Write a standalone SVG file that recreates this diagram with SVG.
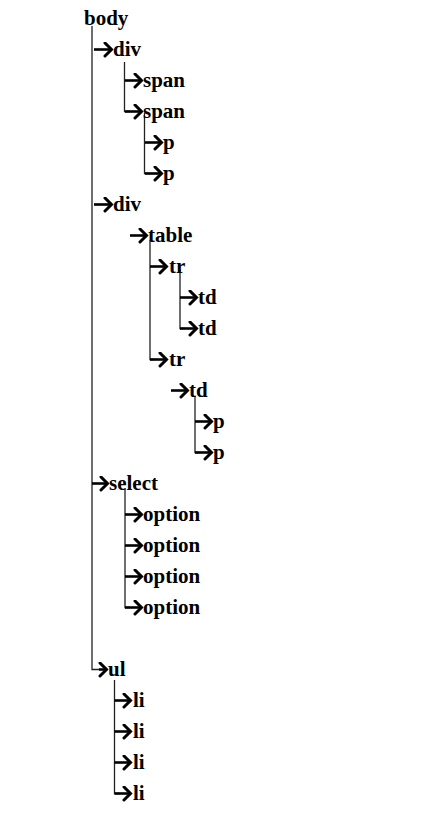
<svg xmlns="http://www.w3.org/2000/svg" width="428" height="815" viewBox="0 0 428 815">
<style>
text{font-family:"Liberation Serif","Times New Roman",serif;font-weight:bold;font-size:21px;fill:#000}
.tree{fill:none;stroke:#222;stroke-width:1.3}
.arr{fill:none;stroke:#000;stroke-width:2.6;marker-end:url(#head)}
</style>
<defs>
<marker id="head" markerUnits="userSpaceOnUse" markerWidth="14" markerHeight="16" refX="9" refY="8" orient="auto">
<path d="M2,1.5 L8.5,8 L2,14.5" fill="none" stroke="#000" stroke-width="3" stroke-linecap="round" stroke-linejoin="miter"/>
</marker>
</defs>
<rect width="428" height="815" fill="#fff"/>
<g id="connectors">
<path class="tree" d="M92,26 V669.5 H100"/>
<path class="arr" d="M99,669.5 H107"/>
<path class="arr" d="M94,49.5 H112"/>
<path class="arr" d="M94,204.5 H112"/>
<path class="arr" d="M92,483.5 H108"/>
<path class="tree" d="M124.5,62 V111.5 H130"/>
<path class="arr" d="M125,80.5 H142"/>
<path class="arr" d="M125,111.5 H142"/>
<path class="tree" d="M144.5,113 V173.5 H150"/>
<path class="arr" d="M145,142.5 H162"/>
<path class="arr" d="M145,173.5 H162"/>
<path class="arr" d="M130,235.5 H147"/>
<path class="tree" d="M150,240 V359.5 H155"/>
<path class="arr" d="M150,266.5 H167"/>
<path class="arr" d="M150,359.5 H167"/>
<path class="tree" d="M180,270 V328.5 H185"/>
<path class="arr" d="M180,297.5 H197"/>
<path class="arr" d="M180,328.5 H197"/>
<path class="arr" d="M171,390.5 H188"/>
<path class="tree" d="M195,396 V452.5 H200"/>
<path class="arr" d="M195,421.5 H212"/>
<path class="arr" d="M195,452.5 H212"/>
<path class="tree" d="M125,488 V607.5 H130"/>
<path class="arr" d="M125,514.5 H142"/>
<path class="arr" d="M125,545.5 H142"/>
<path class="arr" d="M125,576.5 H142"/>
<path class="arr" d="M125,607.5 H142"/>
<path class="tree" d="M114.5,680 V793.5 H120"/>
<path class="arr" d="M114.5,700.5 H131"/>
<path class="arr" d="M114.5,731.5 H131"/>
<path class="arr" d="M114.5,762.5 H131"/>
<path class="arr" d="M114.5,793.5 H131"/>
</g>
<g id="n-body"><text x="84" y="25">body</text></g>
<g id="n-div1"><text x="113" y="55.5">div</text></g>
<g id="n-span1"><text x="143" y="86.5">span</text></g>
<g id="n-span2"><text x="143" y="117.5">span</text></g>
<g id="n-p1"><text x="163" y="148.5">p</text></g>
<g id="n-p2"><text x="163" y="179.5">p</text></g>
<g id="n-div2"><text x="113" y="210.5">div</text></g>
<g id="n-table"><text x="148" y="241.5">table</text></g>
<g id="n-tr1"><text x="169" y="272.5">tr</text></g>
<g id="n-td1"><text x="198" y="303.5">td</text></g>
<g id="n-td2"><text x="198" y="334.5">td</text></g>
<g id="n-tr2"><text x="169" y="365.5">tr</text></g>
<g id="n-td3"><text x="189" y="396.5">td</text></g>
<g id="n-p3"><text x="213" y="427.5">p</text></g>
<g id="n-p4"><text x="213" y="458.5">p</text></g>
<g id="n-select"><text x="109" y="489.5">select</text></g>
<g id="n-option1"><text x="143" y="520.5">option</text></g>
<g id="n-option2"><text x="143" y="551.5">option</text></g>
<g id="n-option3"><text x="143" y="582.5">option</text></g>
<g id="n-option4"><text x="143" y="613.5">option</text></g>
<g id="n-ul"><text x="108" y="675.5">ul</text></g>
<g id="n-li1"><text x="133" y="706.5">li</text></g>
<g id="n-li2"><text x="133" y="737.5">li</text></g>
<g id="n-li3"><text x="133" y="768.5">li</text></g>
<g id="n-li4"><text x="133" y="799.5">li</text></g>
</svg>
